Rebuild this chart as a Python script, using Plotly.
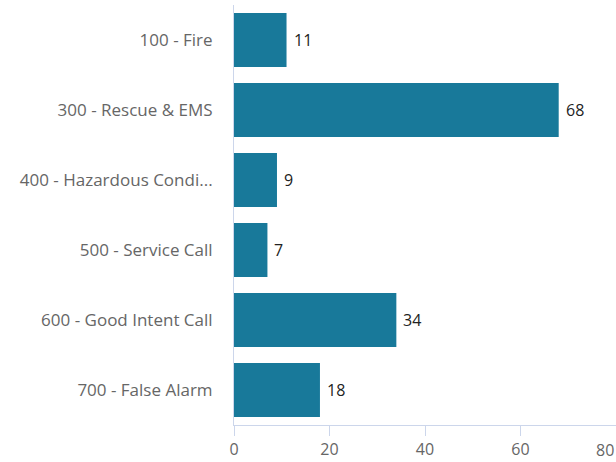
import plotly.graph_objects as go

categories = ["100 - Fire", "300 - Rescue & EMS", "400 - Hazardous Condi...",
              "500 - Service Call", "600 - Good Intent Call", "700 - False Alarm"]
values = [11, 68, 9, 7, 34, 18]
x_ticks = [0, 20, 40, 60, 80]

BAR = "#18799a"
FONT = "Open Sans, sans-serif"

fig = go.Figure(go.Bar(
    x=values, y=categories, orientation="h",
    marker=dict(color=BAR, line=dict(width=0)),
    hoverinfo="x+y",
))

annotations = []
for c, v in zip(categories, values):
    annotations.append(dict(x=v, y=c, xref="x", yref="y", text=str(v),
                            showarrow=False, xanchor="left", xshift=5,
                            font=dict(family=FONT, size=16, color="#222222")))
# last x tick label, justified inside the chart like the reference
annotations.append(dict(x=x_ticks[-1], y=0, xref="x", yref="paper", text=str(x_ticks[-1]),
                        showarrow=False, xanchor="right", yanchor="top", yshift=-12,
                        font=dict(family=FONT, size=16, color="#666666")))

fig.update_layout(
    width=616, height=462,
    margin=dict(l=234, r=0, t=5, b=37),
    paper_bgcolor="white", plot_bgcolor="white",
    bargap=0.23,
    showlegend=False,
    font=dict(family=FONT, size=16, color="#666666"),
    annotations=annotations,
)
fig.update_xaxes(
    range=[0, 80], tickvals=x_ticks[:-1], ticktext=[str(t) for t in x_ticks[:-1]],
    showgrid=False, zeroline=False,
    showline=True, linecolor="#ccd6eb", linewidth=1,
    ticks="outside", ticklen=10, tickcolor="#ccd6eb", tickwidth=1,
    tickfont=dict(family=FONT, size=16, color="#666666"),
    fixedrange=True,
)
fig.update_yaxes(
    autorange="reversed",
    showgrid=False, zeroline=False,
    showline=True, linecolor="#ccd6eb", linewidth=1,
    ticks="", ticklabelstandoff=17,
    tickfont=dict(family=FONT, size=17, color="#666666"),
    fixedrange=True,
)

fig.write_html("out.html", config={"displayModeBar": False},
               post_script="document.body.style.margin='0';")
